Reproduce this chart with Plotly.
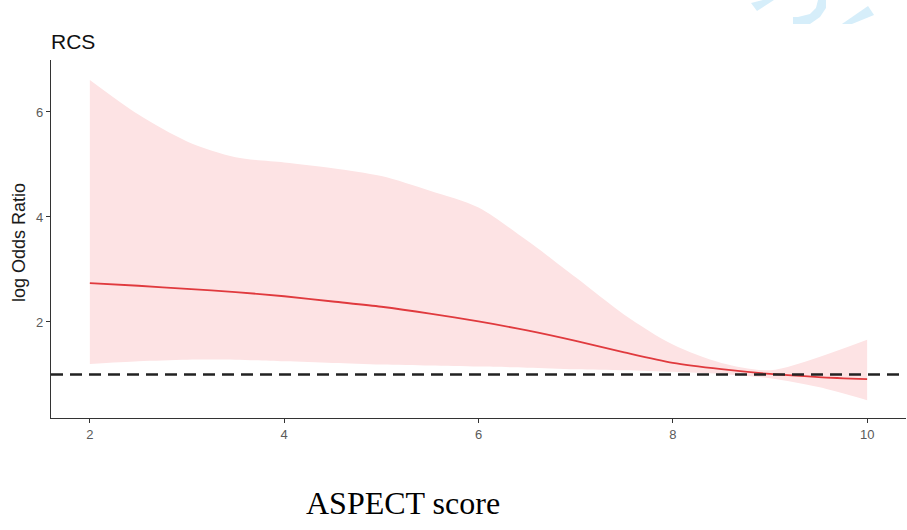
import plotly.graph_objects as go

# ---- data ----
aspect_score = [2.0, 2.5, 3.0, 3.5, 4.0, 4.5, 5.0, 5.5, 6.0, 6.5, 7.0, 7.5, 8.0, 8.5, 9.0, 9.5, 10.0]
log_or = [2.74, 2.69, 2.63, 2.57, 2.49, 2.39, 2.29, 2.16, 2.01, 1.84, 1.64, 1.42, 1.22, 1.10, 1.01, 0.95, 0.91]
ci_upper = [6.61, 5.95, 5.44, 5.14, 5.04, 4.93, 4.78, 4.50, 4.18, 3.55, 2.85, 2.14, 1.57, 1.22, 1.08, 1.33, 1.66]
ci_lower = [1.20, 1.25, 1.28, 1.28, 1.25, 1.22, 1.19, 1.17, 1.15, 1.13, 1.10, 1.08, 1.05, 1.01, 0.93, 0.76, 0.51]
reference_value = 1
x_ticks = [2, 4, 6, 8, 10]
y_ticks = [2, 4, 6]

W, H = 907, 530
ML, MR, MT, MB = 51, 1, 60, 112
PW, PH = W - ML - MR, H - MT - MB


def px_to_paper(px, py):
    return (px - ML) / PW, (H - MB - py) / PH


fig = go.Figure()

fig.add_trace(go.Scatter(
    x=aspect_score, y=ci_upper, mode="lines", line=dict(width=0, shape="spline", smoothing=0.8),
    hoverinfo="skip", showlegend=False))
fig.add_trace(go.Scatter(
    x=aspect_score, y=ci_lower, mode="lines", line=dict(width=0, shape="spline", smoothing=0.8),
    fill="tonexty", fillcolor="#fde3e4", hoverinfo="skip", showlegend=False))
fig.add_trace(go.Scatter(
    x=aspect_score, y=log_or, mode="lines",
    line=dict(color="#e03a3e", width=1.8, shape="spline", smoothing=0.8), showlegend=False))

fig.add_shape(type="line", xref="paper", x0=0, x1=1, yref="y", y0=reference_value, y1=reference_value,
              line=dict(color="#222222", width=2.6, dash="12px,7px"))

# faint watermark fragments at top-right of the reference image
def poly(points):
    pts = [px_to_paper(a, b) for a, b in points]
    return "M " + " L ".join(f"{a:.4f},{b:.4f}" for a, b in pts) + " Z"

wm = "#d6eefa"
for pts in [
    [(751, 3), (757, 11), (774, 0), (763, 0)],
    [(793, 24), (810, 24), (820, 17), (826, 8), (826, 0), (818, 0), (816, 8), (810, 14), (798, 17), (793, 17)],
    [(842, 24), (852, 24), (874, 15), (868, 6)],
]:
    fig.add_shape(type="path", xref="paper", yref="paper", path=poly(pts),
                  fillcolor=wm, line=dict(width=0), layer="above")

fig.update_layout(
    width=W, height=H,
    margin=dict(l=ML, r=MR, t=MT, b=MB),
    paper_bgcolor="white", plot_bgcolor="white",
    font=dict(family="Liberation Sans, Arial, sans-serif", color="#4d4d4d"),
    title=dict(text="RCS", x=0, xref="paper", xanchor="left",
               y=1 - 42 / H, yref="container", yanchor="middle",
               font=dict(size=21, color="#111111", family="Liberation Sans, Arial, sans-serif")),
    xaxis=dict(range=[1.6, 10.4], tickvals=x_ticks, showgrid=False, zeroline=False,
               showline=True, linecolor="#333333", linewidth=1.2,
               ticks="outside", ticklen=4, tickcolor="#333333", tickwidth=1,
               tickfont=dict(size=13, color="#5a5a5a")),
    yaxis=dict(range=[0.171, 6.99], tickvals=y_ticks, showgrid=False, zeroline=False,
               showline=True, linecolor="#333333", linewidth=1.2,
               ticks="outside", ticklen=4, tickcolor="#333333", tickwidth=1,
               tickfont=dict(size=13, color="#5a5a5a")),
)

ax, ay = px_to_paper(19, 243)
fig.add_annotation(text="log Odds Ratio", xref="paper", yref="paper", x=ax, y=ay,
                   textangle=-90, showarrow=False, xanchor="center", yanchor="middle",
                   font=dict(size=18, color="#1a1a1a", family="Liberation Sans, Arial, sans-serif"))

tx, ty = px_to_paper(403, 503)
fig.add_annotation(text="ASPECT score", xref="paper", yref="paper", x=tx, y=ty,
                   showarrow=False, xanchor="center", yanchor="middle",
                   font=dict(size=32, color="#000000", family="Liberation Serif, Times New Roman, serif"))

fig.write_html("out.html")
